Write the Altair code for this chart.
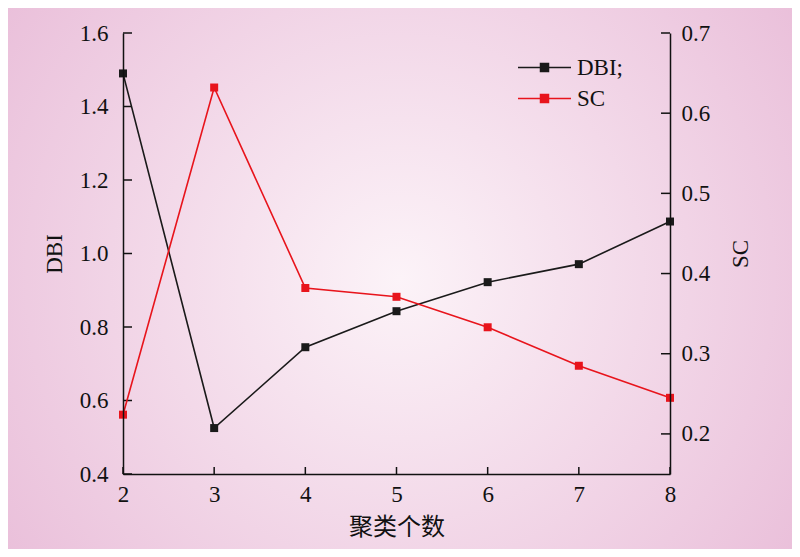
import altair as alt
import pandas as pd

clusters = [2, 3, 4, 5, 6, 7, 8]
dbi_values = [1.49, 0.525, 0.745, 0.843, 0.922, 0.971, 1.087]
sc_values = [0.224, 0.632, 0.382, 0.371, 0.333, 0.285, 0.245]
series_names = ["DBI;", "SC"]
series_colors = ["#1a1a1a", "#e8141c"]
x_ticks = [2, 3, 4, 5, 6, 7, 8]
left_ticks = [0.4, 0.6, 0.8, 1.0, 1.2, 1.4, 1.6]
right_ticks = [0.2, 0.3, 0.4, 0.5, 0.6, 0.7]

df = pd.DataFrame({
    "k": clusters * 2,
    "value": dbi_values + sc_values,
    "series": [series_names[0]] * len(clusters) + [series_names[1]] * len(clusters),
})

FONT = "Liberation Serif, Times New Roman, Noto Sans CJK SC"
W, H = 547, 441
AX = "#111111"
FS = 23

color_scale = alt.Scale(domain=series_names, range=series_colors)
legend = alt.Legend(
    title=None, orient="none", legendX=410, legendY=23,
    symbolType="M-2.65,0H2.65M-0.4,-0.4H0.4V0.4H-0.4Z",
    symbolSize=400, symbolStrokeWidth=1.5, rowPadding=7,
    labelFont=FONT, labelFontSize=FS, labelColor=AX, labelOffset=21,
    padding=0, symbolOpacity=1, zindex=2,
)

x_scale = alt.Scale(domain=[2, 8], nice=False, zero=False)
yl_scale = alt.Scale(domain=[0.4, 1.6], nice=False, zero=False)
yr_scale = alt.Scale(domain=[0.15, 0.7], nice=False, zero=False)

x_enc = alt.X("k:Q", scale=x_scale,
              axis=alt.Axis(values=x_ticks, title="聚类个数", format="d", zindex=1,
                            tickSize=0, labelPadding=9, titlePadding=9, titleFontSize=24))

bg = alt.Chart(pd.DataFrame({"a": [0]})).mark_rect(
    color={"gradient": "radial", "x1": 0.5, "y1": 0.5, "r1": 0,
           "x2": 0.5, "y2": 0.5, "r2": 0.68,
           "stops": [{"offset": 0, "color": "#fcf3f8"},
                     {"offset": 1, "color": "#e8bad7"}]}
).encode(x=alt.value(-115), x2=alt.value(669), y=alt.value(-25), y2=alt.value(516))

left_axis = alt.Axis(values=left_ticks, format=".1f", title="DBI", tickSize=0, zindex=1,
                     labelPadding=15, titlePadding=13)
right_axis = alt.Axis(values=right_ticks, format=".1f", title="SC", tickSize=0, zindex=1,
                      labelPadding=11, titlePadding=43, orient="right", titleAngle=270)

# inward tick marks
xt = alt.Chart(pd.DataFrame({"t": x_ticks})).mark_tick(
    orient="vertical", size=7, thickness=1.5, color=AX, opacity=1
).encode(x=alt.X("t:Q", scale=x_scale), y=alt.value(H - 3.5))

lt = alt.Chart(pd.DataFrame({"t": left_ticks})).mark_tick(
    orient="horizontal", size=9, thickness=1.5, color=AX, opacity=1
).encode(y=alt.Y("t:Q", scale=yl_scale, axis=left_axis), x=alt.value(4.5))

rt = alt.Chart(pd.DataFrame({"t": right_ticks})).mark_tick(
    orient="horizontal", size=9, thickness=1.5, color=AX, opacity=1
).encode(y=alt.Y("t:Q", scale=yr_scale, axis=right_axis), x=alt.value(W - 4.5))

dbi_base = alt.Chart(df).transform_filter(alt.datum.series == series_names[0]).encode(
    x=x_enc,
    y=alt.Y("value:Q", scale=yl_scale, axis=left_axis),
    color=alt.Color("series:N", scale=color_scale, legend=legend),
)
dbi_layer = alt.layer(
    lt,
    dbi_base.mark_line(strokeWidth=1.6),
    dbi_base.mark_point(shape="square", filled=True, size=64, opacity=1),
)

sc_base = alt.Chart(df).transform_filter(alt.datum.series == series_names[1]).encode(
    x=x_enc,
    y=alt.Y("value:Q", scale=yr_scale, axis=right_axis),
    color=alt.Color("series:N", scale=color_scale, legend=legend),
)
sc_layer = alt.layer(
    rt,
    sc_base.mark_line(strokeWidth=1.6),
    sc_base.mark_point(shape="square", filled=True, size=64, opacity=1),
)

chart = alt.layer(bg, xt, dbi_layer, sc_layer).resolve_scale(y="independent").properties(
    width=W, height=H,
    autosize=alt.AutoSizeParams(type="none"),
    padding={"left": 115, "top": 25, "right": 122, "bottom": 75},
    background="#e8bad7",
).configure_view(stroke=None).configure_axis(
    labelFont=FONT, labelFontSize=FS, labelColor=AX,
    titleFont=FONT, titleFontSize=FS, titleColor=AX, titleFontWeight="normal",
    domainColor=AX, domainWidth=1.5, grid=False, labelFlush=False,
)

chart.save("out.html", embed_options={"renderer": "svg", "actions": False})
